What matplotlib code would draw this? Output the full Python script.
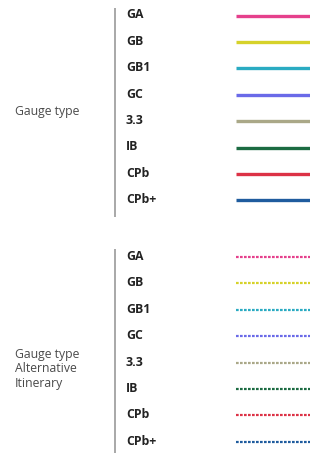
import matplotlib
matplotlib.use("Agg")
import matplotlib.pyplot as plt

categories = ["GA", "GB", "GB1", "GC", "3.3", "IB", "CPb", "CPb+"]
colors = ["#e5408c", "#d6d22a", "#2aabc2", "#6a6ae8", "#aaa888", "#1c6b42", "#dc3246", "#1f5c9e"]
group_titles = ["Gauge type", "Gauge type\nAlternative\nItinerary"]
group_styles = ["solid", "dashed"]

W, H = 310, 453
fig = plt.figure(figsize=(W / 100, H / 100), dpi=100)
ax = fig.add_axes([0, 0, 1, 1])
ax.set_xlim(0, W)
ax.set_ylim(H, 0)
ax.axis("off")

fams = ['Open Sans', 'DejaVu Sans']
plt.rcParams['font.family'] = fams

group_top = [15.5, 257]
title_y = [112, 369]
step = 26.4
for g, (title, style) in enumerate(zip(group_titles, group_styles)):
    y0 = group_top[g]
    ys = [y0 + i * step for i in range(len(categories))]
    ax.plot([115, 115], [ys[0] - 8, ys[-1] + 17 if g == 0 else H + 2], color="#9a9a9a", lw=1.2,
            solid_capstyle="butt")
    ax.text(15, title_y[g], title, ha="left", va="center", fontsize=8.8, color="#4a4a4a",
            family=fams, stretch="normal", linespacing=1.15)
    for cat, col, y in zip(categories, colors, ys):
        ax.text(126, y - 0.5, cat, ha="left", va="center", fontsize=8.8, fontweight="bold",
                stretch="normal", color="#222222", family=fams)
        if style == "solid":
            ax.plot([236, 310], [y, y], color=col, lw=2.4, solid_capstyle="butt")
        else:
            ax.plot([236, 310], [y, y], color=col, lw=1.6, linestyle=(0, (1.2, 0.6)),
                    dash_capstyle="butt")

fig.savefig("out.png", dpi=100)
